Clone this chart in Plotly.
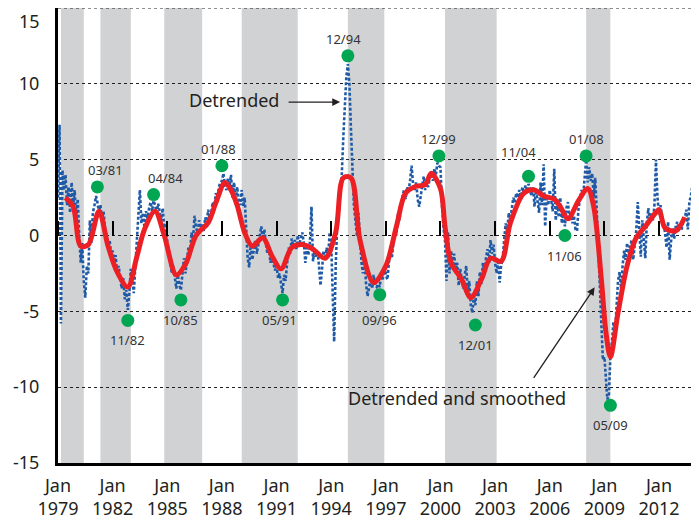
import plotly.graph_objects as go
import pandas as pd

# ---------------- data ----------------
# Detrended series, monthly from Jan 1979
detrended = [
    # 1979
    2.5, 7.3, -5.8, 4.3, 3.0, 4.0, 2.0, 3.2, 1.5, 3.5, 2.0, 3.0,
    # 1980
    1.0, 2.4, 0.0, -1.8, -0.5, -3.0, -4.1, -2.0, -2.5, 1.0, -0.5, 1.5,
    # 1981
    2.0, 2.6, 2.2, 1.5, 2.0, 1.0, 1.6, 0.5, 0.0, -0.8, -0.3, -1.2,
    # 1982
    -1.0, -1.8, -1.3, -2.5, -2.0, -3.0, -3.5, -2.8, -4.2, -3.6, -4.9, -3.8,
    # 1983
    -2.2, -3.0, -3.8, -2.0, -0.5, 1.5, 3.0, 0.8, 1.5, 0.5, 1.6, 1.0,
    # 1984
    1.8, 2.2, 1.6, 2.3, 2.0, 1.5, 2.1, 1.6, 1.0, 1.8, 0.5, 0.8,
    # 1985
    -0.5, -1.0, -1.8, -2.5, -2.0, -3.0, -3.5, -2.6, -3.3, -3.6, -2.5, -1.5,
    # 1986
    -2.5, -1.6, -0.8, -1.2, 0.2, -0.3, 1.3, 0.5, 0.2, 1.0, 0.5, 0.8,
    # 1987
    0.3, 1.2, 0.8, 1.7, 1.0, 1.5, 2.2, 1.8, 2.8, 2.4, 3.2, 3.5,
    # 1988
    3.6, 4.1, 3.3, 3.0, 3.8, 3.2, 4.0, 2.5, 3.5, 2.2, 3.2, 2.4,
    # 1989
    2.0, 3.0, 1.9, 2.5, 0.5, -1.5, -2.1, -0.5, -1.6, -1.0, -0.3, -1.2,
    # 1990
    -0.5, 0.2, 0.6, -0.3, 0.4, -0.5, -1.2, -0.8, -1.8, -1.4, -2.0, -2.3,
    # 1991
    -2.0, -2.8, -2.5, -3.2, -3.8, -2.6, -3.0, -1.8, -0.8, -1.2, -0.2, -0.7,
    # 1992
    -0.3, -0.9, 0.0, -0.6, -0.2, 0.2, -0.5, -1.8, -0.8, -1.3, -0.4, 1.9,
    # 1993
    -1.7, -0.9, -1.4, -1.0, -2.0, -3.3, -2.2, -1.0, -1.6, -0.8, -1.4, 0.2,
    # 1994
    -0.5, -3.5, -7.0, -2.0, 0.6, 1.5, 2.5, 4.0, 6.5, 9.0, 10.5, 11.3,
    # 1995
    10.0, 7.0, 4.0, 2.0, 1.0, 0.0, 1.5, -0.5, -1.8, -2.5, -1.5, -3.2,
    # 1996
    -4.0, -3.4, -2.8, -3.5, -2.6, -3.3, -3.4, -3.2, -3.4, -2.4, -2.9, -2.0,
    # 1997
    -2.6, -2.9, -1.6, -0.7, -1.5, -0.3, 0.5, 0.0, 1.5, 1.0, 2.0, 2.6,
    # 1998
    3.0, 2.4, 3.2, 2.9, 3.6, 4.6, 3.4, 3.0, 3.5, 2.4, 1.9, 2.8,
    # 1999
    3.3, 3.9, 3.0, 3.4, 3.2, 3.8, 4.2, 3.6, 4.4, 4.0, 4.8, 4.6,
    # 2000
    4.5, 2.0, 0.5, -0.3, -3.0, 0.2, -2.5, -1.0, -2.0, -1.2, -2.3, -1.8,
    # 2001
    -3.3, -2.2, -2.8, -3.5, -2.6, -2.0, -3.8, -3.0, -4.6, -5.1, -4.0, -4.6,
    # 2002
    -3.0, -4.0, -2.4, -3.2, -1.8, -2.6, -1.5, -0.9, -1.8, -0.3, -1.2, -0.6,
    # 2003
    -1.8, -2.5, -1.6, -3.1, -2.0, -1.6, -0.3, 0.8, 0.2, 1.5, 1.0, 1.8,
    # 2004
    2.5, 2.2, 2.8, 2.5, 3.0, 2.4, 3.2, 2.8, 3.3, 2.9, 3.4, 3.0,
    # 2005
    2.6, 3.2, 1.9, 3.0, 2.2, 1.5, 3.5, 2.0, 4.7, 0.6, 2.6, 2.0,
    # 2006
    3.0, 2.3, 1.6, 4.4, 1.0, 2.4, 1.2, 2.5, 0.8, 1.6, 0.6, 1.8,
    # 2007
    2.2, 1.0, 1.6, 0.8, 1.3, 0.4, 0.3, 1.8, 2.5, 3.0, 2.6, 4.0,
    # 2008
    5.0, 3.5, 4.5, 3.6, 4.1, 2.5, 3.8, 1.6, -1.0, -3.3, -6.0, -8.2,
    # 2009
    -8.0, -9.5, -10.8, -10.5, -8.0, -7.0, -5.7, -6.5, -4.7, -3.0, -2.4, -3.5,
    # 2010
    -2.0, -1.0, -1.6, -0.5, -1.2, -0.8, -0.3, -1.6, -0.6, 0.3, 2.2, 0.5,
    # 2011
    -1.4, 1.0, -0.3, -1.5, 0.8, 1.8, 0.9, 1.5, 1.0, 2.0, 5.0, 2.5,
    # 2012
    1.4, 2.0, 1.2, 0.8, 0.2, -0.8, 0.9, -1.6, -0.3, 0.5, -0.2, 0.6,
    # 2013
    0.9, 0.3, 0.8, 0.4, 1.0, 1.1, 1.7, 0.4, 2.2, 2.6, 3.3,
]
detrended_start = "1979-01-01"

# Detrended and smoothed series
smooth_dates = [
    "1979-06", "1979-11", "1980-04", "1980-09", "1981-04", "1981-10", "1982-04",
    "1982-11", "1983-05", "1983-10", "1984-05", "1984-11", "1985-07", "1986-01",
    "1986-08", "1987-04", "1987-09", "1988-03", "1988-07", "1988-11", "1989-04",
    "1989-09", "1990-04", "1990-10", "1991-04", "1991-11", "1992-06", "1993-01",
    "1993-09", "1994-04", "1994-09", "1995-02", "1995-08", "1996-05", "1997-01",
    "1997-08", "1998-02", "1998-09", "1999-03", "1999-07", "2000-01", "2000-04",
    "2000-08", "2001-03", "2001-09", "2002-04", "2002-10", "2003-05", "2003-11",
    "2004-08", "2005-03", "2005-09", "2006-04", "2006-08", "2007-01", "2007-08",
    "2008-02", "2008-06", "2008-11", "2009-02", "2009-05", "2009-10", "2010-04",
    "2010-10", "2011-04", "2011-10", "2012-01", "2012-05", "2012-12", "2013-06",
]
smooth_values = [
    2.5, 1.9, -0.7, -0.6, 1.6, -0.7, -2.4,
    -3.4, -1.4, 0.4, 1.6, 0.0, -2.6, -1.9,
    0.0, 0.85, 2.15, 3.5, 3.0, 2.0, 0.2,
    -0.7, -0.15, -1.35, -2.2, -0.8, -0.6, -0.9,
    -1.5, 0.2, 3.8, 3.8, -0.3, -3.1, -2.0,
    0.6, 2.8, 3.25, 3.35, 4.1, 3.1, 0.6,
    -1.8, -2.9, -4.1, -2.9, -1.5, -1.7, 0.8,
    2.8, 3.0, 2.6, 2.4, 1.9, 1.1, 2.3,
    3.1, 1.9, -2.9, -6.4, -8.0, -5.1, -2.0,
    -0.15, 0.6, 1.4, 1.7, 0.5, 0.3, 1.2,
]

# Turning points
turn_dates = ["1981-03", "1982-11", "1984-04", "1985-10", "1988-01", "1991-05", "1994-12",
              "1996-09", "1999-12", "2001-12", "2004-11", "2006-11", "2008-01", "2009-05"]
turn_values = [3.2, -5.6, 2.7, -4.25, 4.6, -4.25, 11.85,
               -3.9, 5.25, -5.9, 3.9, 0.0, 5.25, -11.2]
turn_labels = ["03/81", "11/82", "04/84", "10/85", "01/88", "05/91", "12/94",
               "09/96", "12/99", "12/01", "11/04", "11/06", "01/08", "05/09"]
turn_kind = ["peak", "trough", "peak", "trough", "peak", "trough", "peak",
             "trough", "peak", "trough", "peak", "trough", "peak", "trough"]

# Shaded periods
band_start = ["1979-03", "1981-05", "1984-11", "1989-02", "1994-12", "2000-04", "2008-01"]
band_end = ["1980-06", "1983-01", "1986-12", "1992-03", "1996-12", "2003-02", "2009-05"]

# Axis ticks
x_tick_dates = ["1979-01-01", "1982-01-01", "1985-01-01", "1988-01-01", "1991-01-01",
                "1994-01-01", "1997-01-01", "2000-01-01", "2003-01-01", "2006-01-01",
                "2009-01-01", "2012-01-01"]
x_tick_text = ["Jan<br>1979", "Jan<br>1982", "Jan<br>1985", "Jan<br>1988", "Jan<br>1991",
               "Jan<br>1994", "Jan<br>1997", "Jan<br>2000", "Jan<br>2003", "Jan<br>2006",
               "Jan<br>2009", "Jan<br>2012"]
y_tick_vals = [-15, -10, -5, 0, 5, 10, 15]
y_tick_text = ["-15", "-10", "-5", "0", "5", "10", "15"]

# ---------------- figure ----------------
FONT = "Noto Sans"
TXT = "#231f20"
x_range = ["1979-01-01", "2014-02-01"]

detrended_dates = pd.date_range(detrended_start, periods=len(detrended), freq="MS")

fig = go.Figure()

fig.add_trace(go.Scatter(
    x=detrended_dates, y=detrended, mode="lines",
    line=dict(color="#1f5aa6", width=2.6, dash="3px,2px"),
    hoverinfo="skip", showlegend=False,
))
fig.add_trace(go.Scatter(
    x=smooth_dates, y=smooth_values, mode="lines",
    line=dict(color="#ec2024", width=5, shape="spline", smoothing=0.9),
    hoverinfo="skip", showlegend=False,
))
fig.add_trace(go.Scatter(
    x=turn_dates, y=turn_values, mode="markers",
    marker=dict(color="#00a651", size=13, line=dict(width=0)),
    hoverinfo="skip", showlegend=False,
))
# invisible trace to activate the upper-tick axis on the zero line
fig.add_trace(go.Scatter(
    x=[x_range[0]], y=[0], xaxis="x2", mode="markers",
    marker=dict(opacity=0), hoverinfo="skip", showlegend=False,
))

shapes = []
for s, e in zip(band_start, band_end):
    shapes.append(dict(type="rect", xref="x", yref="paper", x0=s, x1=e, y0=0, y1=1,
                       fillcolor="#d1d2d4", line=dict(width=0), layer="below"))
# top gridline (at the edge of the range)
shapes.append(dict(type="line", xref="paper", yref="y", x0=0, x1=1,
                   y0=y_tick_vals[-1], y1=y_tick_vals[-1],
                   line=dict(color=TXT, width=1.2, dash="dot"), layer="above"))

label_xshift = {"03/81": 8, "04/84": 12, "11/04": -10, "05/91": -3, "01/88": -3, "12/94": -4}
annotations = []
for d, v, lab, k in zip(turn_dates, turn_values, turn_labels, turn_kind):
    ys = 17 if k == "peak" else -20
    if lab == "11/04":
        ys = 24
    if lab == "09/96":
        ys = -25
    annotations.append(dict(
        x=d, y=v, xref="x", yref="y", text=lab, showarrow=False,
        xshift=label_xshift.get(lab, 0), yshift=ys,
        font=dict(family=FONT, size=13, color="#333333"),
    ))

# top y label drawn slightly lower, as in the source
annotations.append(dict(
    x=0, xref="paper", y=y_tick_vals[-1], yref="y", text=y_tick_text[-1],
    showarrow=False, xanchor="right", yanchor="top", xshift=-17, yshift=0,
    borderpad=0,
    font=dict(family=FONT, size=18, color=TXT),
))

annotations += [
    dict(x="1988-09-05", y=8.95, xref="x", yref="y", text="Detrended", showarrow=False,
         font=dict(family=FONT, size=18, color=TXT)),
    dict(x="1994-06-28", y=8.8, xref="x", yref="y", text="", showarrow=True,
         ax=-53, ay=0, arrowhead=2, arrowsize=1.2, arrowwidth=1.3, arrowcolor=TXT),
    dict(x="2000-12-01", y=-10.72, xref="x", yref="y", text="Detrended and smoothed",
         showarrow=False, font=dict(family=FONT, size=18, color=TXT)),
    dict(x="2008-06-20", y=-3.42, xref="x", yref="y", text="", showarrow=True,
         ax=-62, ay=92, arrowhead=2, arrowsize=1.2, arrowwidth=1.3, arrowcolor=TXT),
]

# The page body adds an 8px offset, so the figure is 8px smaller on each axis.
fig.update_layout(
    width=691, height=517,
    margin=dict(l=50, r=2, t=0, b=62, autoexpand=False),
    paper_bgcolor="white", plot_bgcolor="white",
    font=dict(family=FONT, size=18, color=TXT),
    shapes=shapes, annotations=annotations,
    xaxis=dict(
        range=x_range, type="date", automargin=False,
        tickvals=x_tick_dates, ticktext=x_tick_text,
        showgrid=False, zeroline=False,
        showline=True, linecolor="black", linewidth=3,
        ticks="", ticklabelstandoff=4,
        tickfont=dict(family=FONT, size=18, color=TXT),
    ),
    xaxis2=dict(
        range=x_range, type="date", overlaying="x", anchor="free", position=0.5,
        side="top", tickvals=x_tick_dates, ticks="outside", ticklen=15, tickwidth=1.5,
        tickcolor="black", showticklabels=False, showgrid=False, zeroline=False,
        showline=False, automargin=False,
    ),
    yaxis=dict(
        range=[-15, 15], tickvals=y_tick_vals[:-1], ticktext=y_tick_text[:-1],
        automargin=False,
        showgrid=True, gridcolor=TXT, gridwidth=1, griddash="dot",
        zeroline=False, showline=True, linecolor="black", linewidth=3,
        ticks="", ticklabelstandoff=12,
        tickfont=dict(family=FONT, size=18, color=TXT),
    ),
)

fig.write_html("out.html")
